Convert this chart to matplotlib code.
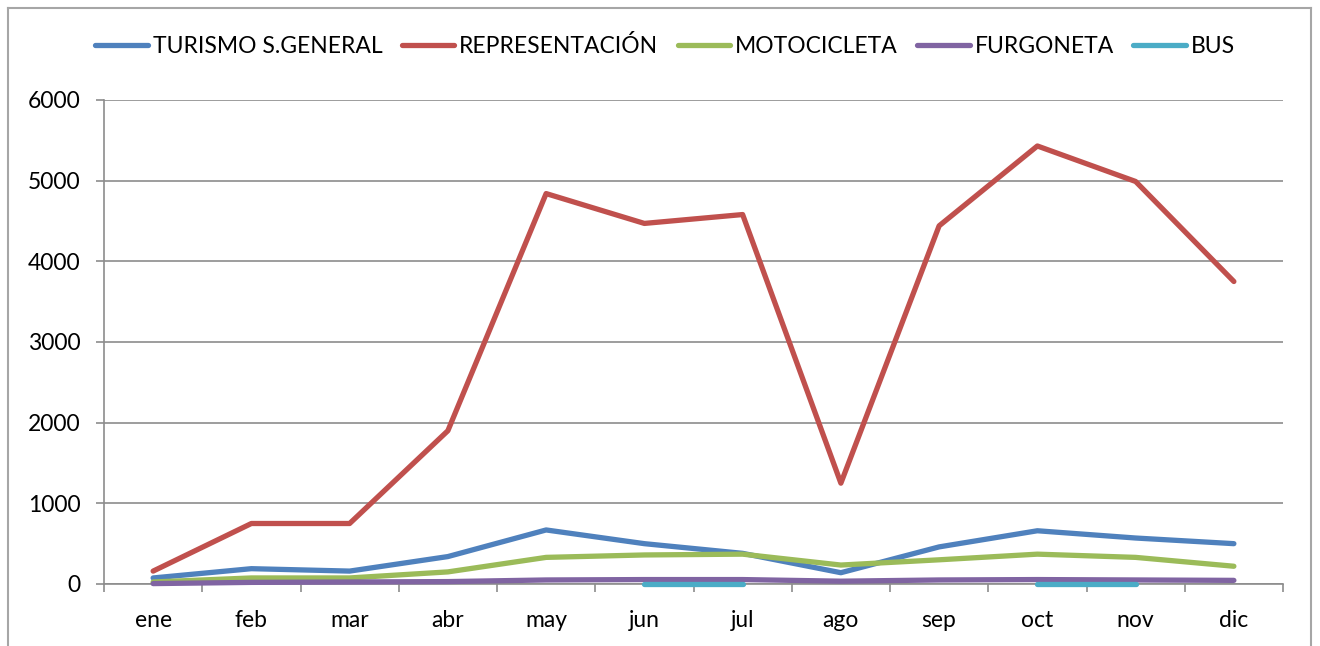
import numpy as np
import matplotlib
matplotlib.use("Agg")
import matplotlib.pyplot as plt
from matplotlib.lines import Line2D

months = ["ene", "feb", "mar", "abr", "may", "jun", "jul", "ago", "sep", "oct", "nov", "dic"]
turismo = [75, 190, 160, 340, 670, 500, 380, 140, 460, 660, 570, 500]
representacion = [160, 750, 750, 1900, 4840, 4470, 4580, 1250, 4440, 5430, 4990, 3750]
motocicleta = [25, 75, 75, 150, 330, 360, 370, 235, 300, 370, 330, 220]
furgoneta = [5, 20, 25, 30, 50, 55, 55, 35, 50, 55, 50, 45]
bus = [np.nan, np.nan, np.nan, np.nan, np.nan, 0, 0, np.nan, np.nan, 0, 0, np.nan]

names = ["TURISMO S.GENERAL", "REPRESENTACIÓN", "MOTOCICLETA", "FURGONETA", "BUS"]
colors = ["#4F81BD", "#C0504D", "#9BBB59", "#8064A2", "#4BACC6"]
series = [turismo, representacion, motocicleta, furgoneta, bus]

plt.rcParams['font.family'] = ['Lato', 'DejaVu Sans']

W, H = 1320, 646
fig = plt.figure(figsize=(W / 100, H / 100), dpi=100)
ax = fig.add_axes([104 / W, (H - 584) / H, (1283 - 104) / W, (584 - 100) / H])

x = np.arange(len(months))
for s, c, n in zip(series, colors, names):
    ax.plot(x, s, color=c, lw=3.8, solid_capstyle='round', solid_joinstyle='round',
            label=n, zorder=3, clip_on=False)

ax.set_xlim(-0.5, 11.5)
ax.set_ylim(0, 6000)
ax.set_yticks(np.arange(0, 6001, 1000))
ax.set_xticks(x)
ax.set_xticklabels(months)
ax.set_xticks(np.arange(-0.5, 12, 1), minor=True)
grid_c = "#8C8C8C"
ax.yaxis.grid(True, color=grid_c, lw=1.2, zorder=0)
ax.tick_params(axis='x', which='major', length=0, pad=19, labelsize=16.5)
ax.tick_params(axis='x', which='minor', length=6, width=1.2, color=grid_c, direction='out')
ax.tick_params(axis='y', length=6, width=1.2, color=grid_c, labelsize=16.5, pad=11)
for side in ['top', 'right']:
    ax.spines[side].set_visible(False)
for side in ['left', 'bottom']:
    ax.spines[side].set_color(grid_c)
    ax.spines[side].set_linewidth(1.2)

handles = [Line2D([0], [0], color=c, lw=3.8, solid_capstyle='round') for c in colors]
fig.legend(handles, names, loc='center', bbox_to_anchor=(0.5 + 5 / W, 1 - 46 / H), ncol=5,
           frameon=False, fontsize=16.5, handlelength=2.3, handletextpad=0.2, columnspacing=0.85)

bc = "#A6A6A6"
fig.add_artist(Line2D([8 / W, 8 / W], [0, 1 - 8 / H], color=bc, lw=1.5, transform=fig.transFigure))
fig.add_artist(Line2D([8 / W, 1311 / W], [1 - 8 / H, 1 - 8 / H], color=bc, lw=1.5, transform=fig.transFigure))
fig.add_artist(Line2D([1311 / W, 1311 / W], [0, 1 - 8 / H], color=bc, lw=1.5, transform=fig.transFigure))

fig.savefig("out.png", dpi=100)
